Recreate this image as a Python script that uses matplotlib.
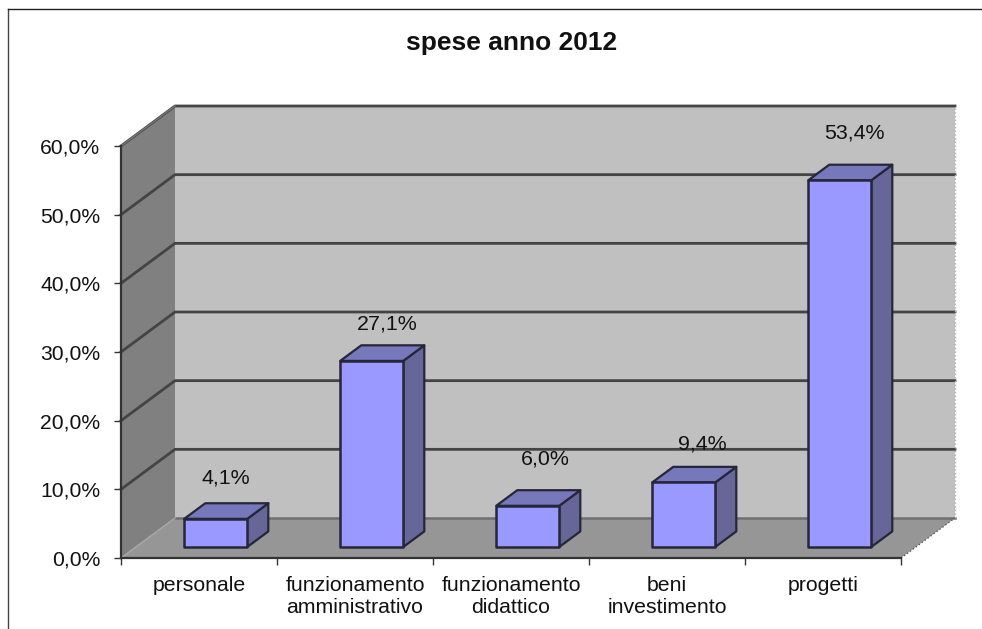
import numpy as np
import matplotlib
matplotlib.use("Agg")
import matplotlib.pyplot as plt
from matplotlib.lines import Line2D
from matplotlib.patches import Polygon

plt.rcParams["font.family"] = ["Liberation Sans", "DejaVu Sans"]

# Data
categories = ["personale", "funzionamento\namministrativo", "funzionamento\ndidattico",
              "beni\ninvestimento", "progetti"]
values = [4.1, 27.1, 6.0, 9.4, 53.4]
value_labels = ["4,1%", "27,1%", "6,0%", "9,4%", "53,4%"]
y_ticks = [0, 10, 20, 30, 40, 50, 60]
y_tick_labels = ["0,0%", "10,0%", "20,0%", "30,0%", "40,0%", "50,0%", "60,0%"]

# pixels above each bar's front top edge, and sideways from the category centre
label_dy = [41, 37, 47, 38, 47]
label_dx = [-3, 2, 4, 5, 1]

W, H = 982, 629
fig = plt.figure(figsize=(W / 100, H / 100), dpi=100)

# front plane of the fake 3D box
ax = fig.add_axes([121 / W, (H - 558) / H, 780 / W, 412 / H])
ax.set_xlim(0, len(categories))
ax.set_ylim(0, 60)
ax.patch.set_visible(False)

# how far one full unit of depth moves a point, in data units
DX = 54 / 156
DY = 40 / (412 / 60)


def shift(x, y, d):
    return (x + DX * d, y + DY * d)


def face(points, color, z, edge="none", lw=0):
    ax.add_patch(Polygon(points, closed=True, facecolor=color, edgecolor=edge,
                         linewidth=lw, zorder=z, clip_on=False, joinstyle="round"))


n = len(categories)

# walls and floor
face([shift(0, 0, 1), shift(n, 0, 1), shift(n, 60, 1), shift(0, 60, 1)], "#c0c0c0", 1)
face([(0, 0), shift(0, 0, 1), shift(0, 60, 1), (0, 60)], "#808080", 1)
face([(0, 0), (n, 0), shift(n, 0, 1), shift(0, 0, 1)], "#969696", 2)

# gridlines run along the left wall and then the back wall
for t in y_ticks[1:]:
    xs = [0, shift(0, t, 1)[0], shift(n, t, 1)[0]]
    ys = [t, shift(0, t, 1)[1], shift(n, t, 1)[1]]
    ax.plot(xs, ys, color="#444444", lw=2, zorder=3, clip_on=False)

# soft edges of the box
ax.plot(*zip(shift(0, 0, 1), shift(n, 0, 1)), color="#707070", lw=1.8, zorder=3, clip_on=False)
ax.plot(*zip((0, 0), shift(0, 0, 1)), color="#a8a8a8", lw=1, zorder=3, clip_on=False)
ax.plot(*zip((n, 0), shift(n, 0, 1)), color="#555555", lw=1, ls=":", zorder=3, clip_on=False)
ax.plot(*zip(shift(n, 0, 1), shift(n, 60, 1)), color="#b0b0b0", lw=1, ls=":", zorder=3, clip_on=False)
ax.plot(*zip((0, 60), shift(0, 60, 1)), color="#777777", lw=1, zorder=3, clip_on=False)

# bars
bar_w = 0.404
d1, d2 = 0.275, 0.665
for i, v in enumerate(values):
    x0 = i + 0.512 - bar_w / 2
    x1 = x0 + bar_w
    z = 5 + i
    face([shift(x1, 0, d1), shift(x1, 0, d2), shift(x1, v, d2), shift(x1, v, d1)],
         "#666699", z, "#26263a", 1.6)
    face([shift(x0, v, d1), shift(x1, v, d1), shift(x1, v, d2), shift(x0, v, d2)],
         "#7777bb", z, "#26263a", 1.6)
    face([shift(x0, 0, d1), shift(x1, 0, d1), shift(x1, v, d1), shift(x0, v, d1)],
         "#9999ff", z, "#26263a", 1.8)
    top = shift(i + 0.5, v, d1)
    ax.annotate(value_labels[i], xy=top, xytext=(label_dx[i] * 0.72 + 11, label_dy[i] * 0.72),
                textcoords="offset points", ha="center", va="center", fontsize=15.4,
                color="#111111", zorder=20, annotation_clip=False)

# axes
for side in ["top", "right"]:
    ax.spines[side].set_visible(False)
for side in ["left", "bottom"]:
    ax.spines[side].set_color("#333333")
    ax.spines[side].set_linewidth(1.6)
    ax.spines[side].set_zorder(4)

ax.set_yticks(y_ticks, y_tick_labels)
ax.set_xticks(np.arange(n + 1))
ax.set_xticklabels([])
ax.set_xticks(np.arange(n) + 0.5, categories, minor=True)
ax.tick_params(axis="y", length=5, width=1, color="#333333", labelsize=15.2, pad=10, labelcolor="#111111")
ax.tick_params(axis="x", which="major", length=5, width=1, color="#333333")
ax.tick_params(axis="x", which="minor", length=0, labelsize=15.3, pad=13, labelcolor="#111111")
for lab in ax.get_xminorticklabels():
    lab.set_linespacing(1.22)

# chart frame, cut off by the picture on the right and at the bottom
fig.add_artist(Line2D([8 / W, 8 / W], [0, (H - 9) / H], color="#444444", lw=1))
fig.add_artist(Line2D([8 / W, 1], [(H - 9) / H, (H - 9) / H], color="#222222", lw=1))

fig.text(512 / W, (H - 43) / H, "spese anno 2012", ha="center", va="center",
         fontsize=19, fontweight="bold", color="#111111")

fig.savefig("out.png", dpi=100)
plt.close(fig)
